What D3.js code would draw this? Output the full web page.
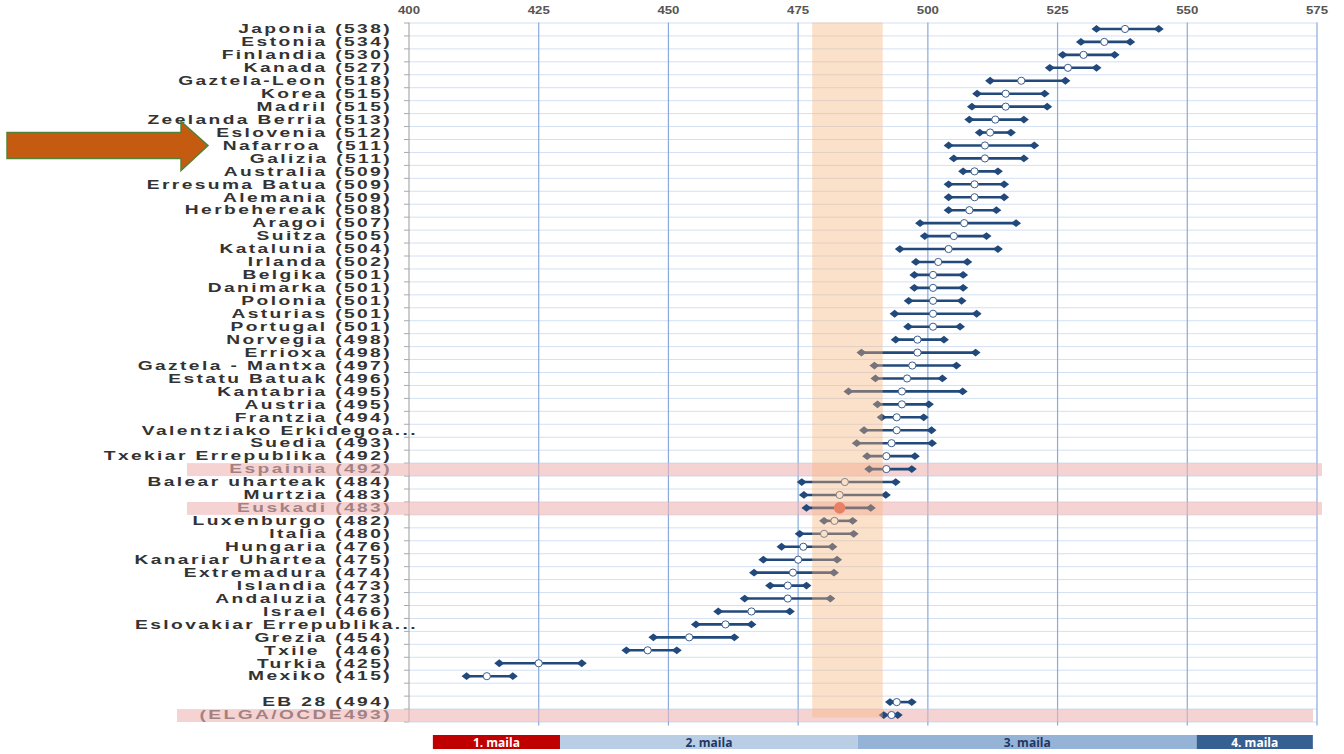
<!DOCTYPE html>
<html>
<head>
<meta charset="utf-8">
<script src="https://cdn.jsdelivr.net/npm/d3@7"></script>
<style>
  body { margin: 0; background: #fff; }
  svg text { white-space: pre; }
</style>
</head>
<body>
<div id="theGraph"></div>
<script>
// Row labels, top to bottom ("" is the empty spacer row)
var labels = [
    "Japonia (538)", "Estonia (534)", "Finlandia (530)", "Kanada (527)", "Gaztela-Leon (518)",
    "Korea (515)", "Madril (515)", "Zeelanda Berria (513)", "Eslovenia (512)", "Nafarroa  (511)",
    "Galizia (511)", "Australia (509)", "Erresuma Batua (509)", "Alemania (509)", "Herbehereak (508)",
    "Aragoi (507)", "Suitza (505)", "Katalunia (504)", "Irlanda (502)", "Belgika (501)",
    "Danimarka (501)", "Polonia (501)", "Asturias (501)", "Portugal (501)", "Norvegia (498)",
    "Errioxa (498)", "Gaztela - Mantxa (497)", "Estatu Batuak (496)", "Kantabria (495)", "Austria (495)",
    "Frantzia (494)", "Valentziako Erkidegoa...", "Suedia (493)", "Txekiar Errepublika (492)", "Espainia (492)",
    "Balear uharteak (484)", "Murtzia (483)", "Euskadi (483)", "Luxenburgo (482)", "Italia (480)",
    "Hungaria (476)", "Kanariar Uhartea (475)", "Extremadura (474)", "Islandia (473)", "Andaluzia (473)",
    "Israel (466)", "Eslovakiar Errepublika...", "Grezia (454)", "Txile  (446)", "Turkia (425)",
    "Mexiko (415)", "", "EB 28 (494)", "(ELGA/OCDE493)"
];

// mean score (circle)
var means = [
    538, 534, 530, 527, 518, 515, 515, 513, 512, 511,
    511, 509, 509, 509, 508, 507, 505, 504, 502, 501,
    501, 501, 501, 501, 498, 498, 497, 496, 495, 495,
    494, 494, 493, 492, 492, 484, 483, 483, 482, 480,
    476, 475, 474, 473, 473, 466, 461, 454, 446, 425,
    415, null, 494, 493
];

// confidence interval ends (diamonds)
var lows = [
    532.5, 529.5, 526, 523.5, 512, 509.5, 508.5, 508, 510, 504,
    505, 506.8, 504, 504, 504, 498.5, 499.4, 494.6, 497.7, 497.4,
    497.4, 496.3, 493.6, 496.2, 493.8, 487.2, 489.7, 489.9, 484.7, 490.3,
    491.1, 487.7, 486.3, 488.3, 488.7, 475.7, 476.1, 476.6, 480, 475.3,
    471.8, 468.3, 466.5, 469.6, 464.7, 459.6, 455.3, 447.1, 441.9, 417.4,
    411.1, null, 492.7, 491.5
];
var highs = [
    544.5, 539, 536, 532.5, 526.5, 522.5, 523, 518.5, 516, 520.5,
    518.5, 513.5, 514.7, 514.7, 513.2, 517, 511.3, 513.5, 507.6, 506.8,
    506.8, 506.5, 509.4, 506.2, 503.1, 509.2, 505.5, 502.8, 506.7, 500.2,
    499.2, 500.7, 500.8, 497.5, 496.9, 493.8, 491.9, 489, 485.5, 485.7,
    481.6, 482.5, 481.9, 476.6, 481.2, 473.4, 466, 462.7, 451.6, 433.3,
    420, null, 496.9, 494.2
];

var xTicks = [400, 425, 450, 475, 500, 525, 550, 575];
var bandRange = [477.7, 491.3];          // orange reference band
var highlightRows = ["Espainia (492)", "Euskadi (483)", "(ELGA/OCDE493)"];
var focusRow = "Euskadi (483)";

// proficiency levels shown under the chart
var levelNames = ["1. maila", "2. maila", "3. maila", "4. maila"];
var levelBreaks = [404.6, 429.1, 486.5, 551.8, 574.2];
var levelColors = ["#c00000", "#b9cde5", "#95b3d7", "#376092"];
var levelText = ["#ffffff", "#1f3864", "#1f3864", "#ffffff"];

const width = 1344, height = 754;
const navy = "#22497c";

const svg = d3.select("#theGraph")
    .append("svg")
    .attr("width", width)
    .attr("height", height)
    .style("font-family", "'Liberation Sans', Arial, sans-serif");

const xScale = d3.scaleLinear().domain([400, 575]).range([409, 1317]);
const yScale = d3.scaleBand().domain(d3.range(labels.length)).range([22.5, 721.5]);
const rowH = yScale.bandwidth();
const rows = labels.map((l, i) => ({label: l, mean: means[i], low: lows[i], high: highs[i], i: i}));

// grid
const grid = svg.append("g");
grid.selectAll(".hgrid")
    .data(d3.range(labels.length + 1))
    .enter().append("line")
    .attr("x1", xScale(400)).attr("x2", xScale(575))
    .attr("y1", k => yScale.range()[0] + k * rowH + 0.5)
    .attr("y2", k => yScale.range()[0] + k * rowH + 0.5)
    .attr("stroke", "#d3e0f3").attr("stroke-width", 1);

grid.selectAll(".vgrid")
    .data(xTicks.slice(1))
    .enter().append("line")
    .attr("x1", d => xScale(d)).attr("x2", d => xScale(d))
    .attr("y1", yScale.range()[0]).attr("y2", yScale.range()[1] + 4)
    .attr("stroke", "#8aaadb").attr("stroke-width", 1.2);

// left axis with row ticks
grid.append("line")
    .attr("x1", xScale(400)).attr("x2", xScale(400))
    .attr("y1", yScale.range()[0]).attr("y2", yScale.range()[1])
    .attr("stroke", "#999");
grid.selectAll(".ltick")
    .data(d3.range(labels.length + 1))
    .enter().append("line")
    .attr("x1", xScale(400) - 5).attr("x2", xScale(400))
    .attr("y1", k => yScale.range()[0] + k * rowH + 0.5)
    .attr("y2", k => yScale.range()[0] + k * rowH + 0.5)
    .attr("stroke", "#aaa");

// top tick labels
svg.selectAll(".xlab")
    .data(xTicks)
    .enter().append("text")
    .attr("transform", d => `translate(${xScale(d)}, 14) scale(1.15,1)`)
    .attr("text-anchor", "middle")
    .attr("font-size", 11.5)
    .attr("font-weight", "bold")
    .attr("fill", "#555")
    .text(d => d);

// row labels (stretched like the original); cut-off names spill past the axis
svg.selectAll(".rlab")
    .data(rows)
    .enter().append("text")
    .attr("transform", d => `translate(${d.label.endsWith("...") ? 418 : 392}, ${yScale(d.i) + rowH / 2 + 4.3}) scale(1.6,1)`)
    .attr("text-anchor", "end")
    .attr("font-size", 12)
    .attr("font-weight", "bold")
    .attr("letter-spacing", 1.5)
    .attr("fill", "#333")
    .text(d => d.label);

// pink highlight rows
svg.selectAll(".hl")
    .data(rows.filter(d => highlightRows.includes(d.label)))
    .enter().append("rect")
    .attr("x", d => d.label[0] == "(" ? 177 : 187)
    .attr("width", d => d.label[0] == "(" ? 1136 : 1135)
    .attr("y", d => yScale(d.i) + 0.5)
    .attr("height", rowH)
    .attr("fill", "#eeb6b6")
    .attr("opacity", 0.6);

// intervals
const marks = svg.append("g");
const data = rows.filter(d => d.mean != null);
const diamond = "M0,-3.9L5,0L0,3.9L-5,0Z";

marks.selectAll(".ci")
    .data(data)
    .enter().append("line")
    .attr("x1", d => xScale(d.low)).attr("x2", d => xScale(d.high))
    .attr("y1", d => yScale(d.i) + rowH / 2).attr("y2", d => yScale(d.i) + rowH / 2)
    .attr("stroke", navy).attr("stroke-width", 2.6);

marks.selectAll(".dlo")
    .data(data)
    .enter().append("path")
    .attr("d", diamond)
    .attr("transform", d => `translate(${xScale(d.low)}, ${yScale(d.i) + rowH / 2})`)
    .attr("fill", navy);
marks.selectAll(".dhi")
    .data(data)
    .enter().append("path")
    .attr("d", diamond)
    .attr("transform", d => `translate(${xScale(d.high)}, ${yScale(d.i) + rowH / 2})`)
    .attr("fill", navy);

marks.selectAll(".mean")
    .data(data)
    .enter().append("circle")
    .attr("cx", d => xScale(d.mean))
    .attr("cy", d => yScale(d.i) + rowH / 2)
    .attr("r", d => d.label == focusRow ? 5.8 : 3.6)
    .attr("fill", d => d.label == focusRow ? "#e0605a" : "#fff")
    .attr("stroke", d => d.label == focusRow ? "none" : "#3d5f8c")
    .attr("stroke-width", 1);

// orange reference band drawn over the marks
svg.append("rect")
    .attr("x", xScale(bandRange[0]))
    .attr("width", xScale(bandRange[1]) - xScale(bandRange[0]))
    .attr("y", yScale.range()[0])
    .attr("height", yScale.range()[1] - yScale.range()[0] - 4)
    .attr("fill", "#f8b57a")
    .attr("opacity", 0.4);

// arrow pointing to Nafarroa
const ay = yScale(9) + rowH / 2;
svg.append("path")
    .attr("d", `M7,${ay - 13}L181,${ay - 13}L181,${ay - 24}L208,${ay}L181,${ay + 25}L181,${ay + 13}L7,${ay + 13}Z`)
    .attr("fill", "#c55a11")
    .attr("stroke", "#548235")
    .attr("stroke-width", 1.5);

// level legend
const legend = svg.append("g").attr("transform", "translate(0,735)");
legend.selectAll("rect")
    .data(levelNames)
    .enter().append("rect")
    .attr("x", (d, i) => xScale(levelBreaks[i]))
    .attr("width", (d, i) => xScale(levelBreaks[i + 1]) - xScale(levelBreaks[i]))
    .attr("height", 14)
    .attr("fill", (d, i) => levelColors[i]);
legend.selectAll("text")
    .data(levelNames)
    .enter().append("text")
    .attr("x", (d, i) => (xScale(levelBreaks[i]) + xScale(levelBreaks[i + 1])) / 2)
    .attr("y", 11.5)
    .attr("text-anchor", "middle")
    .attr("font-family", "'Open Sans', sans-serif")
    .attr("font-size", 12)
    .attr("font-weight", "bold")
    .attr("fill", (d, i) => levelText[i])
    .text(d => d);
</script>
</body>
</html>
